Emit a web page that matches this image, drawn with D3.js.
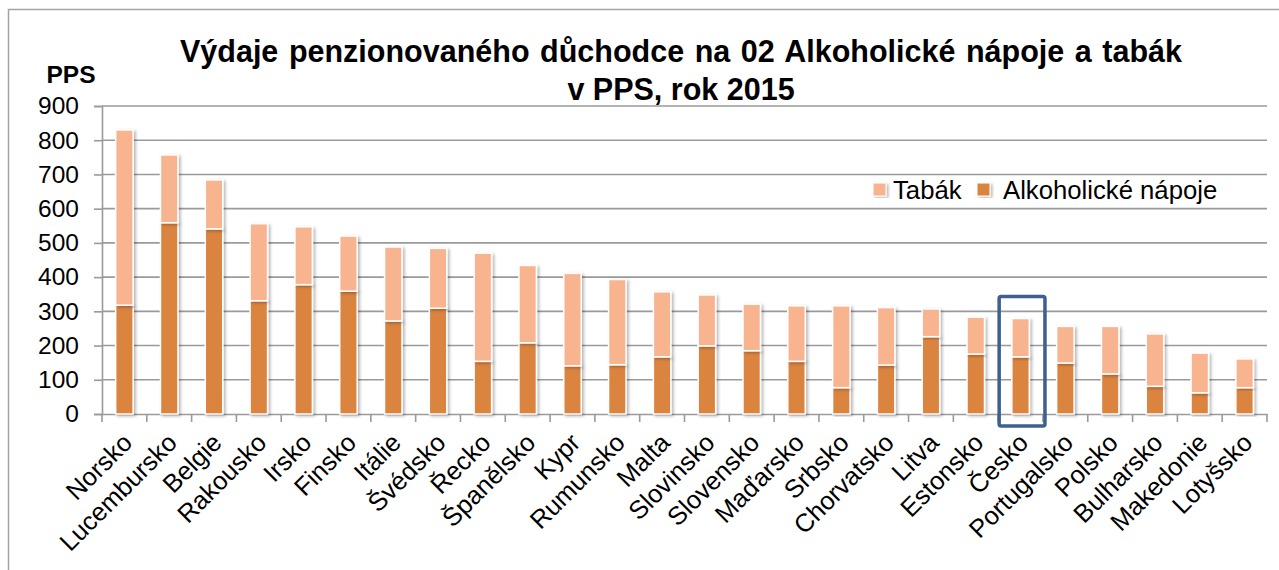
<!DOCTYPE html>
<html><head><meta charset="utf-8">
<script src="https://cdn.jsdelivr.net/npm/d3@7"></script>
<style>
html,body{margin:0;padding:0;background:#fff;}
svg{display:block;font-family:"Liberation Sans",Arial,sans-serif;}
</style></head>
<body>
<svg id="chart" width="1279" height="570"></svg>
<script>
const categories = ["Norsko","Lucembursko","Belgie","Rakousko","Irsko","Finsko","Itálie","Švédsko","Řecko","Španělsko","Kypr","Rumunsko","Malta","Slovinsko","Slovensko","Maďarsko","Srbsko","Chorvatsko","Litva","Estonsko","Česko","Portugalsko","Polsko","Bulharsko","Makedonie","Lotyšsko"];
const alkohol = [318,559,541,331,378,359,272,309,154,208,141,144,167,199,185,154,77,143,226,175,167,149,117,81,62,77];
const tabak   = [512,198,143,225,169,161,216,175,316,226,270,249,190,149,136,162,239,168,81,108,112,107,139,153,116,84];
const yTicks = [0,100,200,300,400,500,600,700,800,900];
const seriesNames = ["Tabák","Alkoholické nápoje"];
const highlight = "Česko";
const titleLines = ["Výdaje penzionovaného důchodce na 02 Alkoholické nápoje a tabák","v PPS, rok 2015"];
const yUnit = "PPS";

const colAlk = "#DB843F", colTab = "#F8B48E", gridCol = "#9a9a9a";
const svg = d3.select("#chart");
const defs = svg.append("defs");
const f = defs.append("filter").attr("id","sh").attr("x","-30%").attr("y","-10%").attr("width","160%").attr("height","120%");
f.append("feDropShadow").attr("dx",2).attr("dy",1.5).attr("stdDeviation",1.5).attr("flood-color","#000").attr("flood-opacity",0.28);

const L = 102, R = 1267, T = 106, B = 414;
const x = d3.scaleBand().domain(categories).range([L,R]).paddingInner(0.61).paddingOuter(0.305);
const xb = d3.scaleBand().domain(categories).range([L,R]).padding(0);
const y = d3.scaleLinear().domain([0,900]).range([B,T]);

// outer chart border
svg.append("path").attr("d","M8.5,570 V9.5 H1279").attr("fill","none").attr("stroke","#a3a3a3").attr("stroke-width",1.5);

// gridlines
svg.append("g").selectAll("line").data(yTicks.filter(d=>d>0)).join("line")
  .attr("x1",L).attr("x2",R).attr("y1",d=>y(d)).attr("y2",d=>y(d))
  .attr("stroke",gridCol).attr("stroke-width",1.6);

// y axis
const ya = svg.append("g").attr("transform",`translate(${L},0)`)
  .call(d3.axisLeft(y).tickValues(yTicks).tickSize(8).tickPadding(15));
ya.select(".domain").attr("stroke",gridCol).attr("stroke-width",1.6);
ya.selectAll(".tick line").attr("stroke",gridCol).attr("stroke-width",1.6);
ya.selectAll(".tick text").attr("font-size",24.5).attr("fill","#000").attr("font-family","Liberation Sans, Arial, sans-serif");

// x axis
const xa = svg.append("g").attr("transform",`translate(0,${B})`)
  .call(d3.axisBottom(xb).tickSize(0).tickFormat(""));
xa.select(".domain").attr("stroke",gridCol).attr("stroke-width",1.6);
svg.append("g").selectAll("line").data(categories.concat(["__end"])).join("line")
  .attr("x1",(d,i)=>L+i*xb.step()).attr("x2",(d,i)=>L+i*xb.step())
  .attr("y1",B).attr("y2",B+8).attr("stroke",gridCol).attr("stroke-width",1.6);

// bars
const stackData = categories.map((c,i)=>({c, alk:alkohol[i], tab:tabak[i]}));
const bars = svg.append("g");
bars.selectAll("rect.alk").data(stackData).join("rect").attr("class","alk")
  .attr("x",d=>x(d.c)).attr("width",x.bandwidth())
  .attr("y",d=>y(d.alk)).attr("height",d=>y(0)-y(d.alk))
  .attr("fill",colAlk).attr("stroke","#fff").attr("stroke-width",1.5).attr("filter","url(#sh)");
bars.selectAll("rect.tab").data(stackData).join("rect").attr("class","tab")
  .attr("x",d=>x(d.c)).attr("width",x.bandwidth())
  .attr("y",d=>y(d.alk+d.tab)).attr("height",d=>y(d.alk)-y(d.alk+d.tab))
  .attr("fill",colTab).attr("stroke","#fff").attr("stroke-width",1.5).attr("filter","url(#sh)");

// x labels
svg.append("g").selectAll("text").data(categories).join("text")
  .attr("transform",d=>`translate(${xb(d)+xb.bandwidth()/2+3},${B+24}) rotate(-45)`)
  .attr("text-anchor","end").attr("dy","0.35em")
  .attr("font-size",25.5).attr("fill","#000").text(d=>d);

// highlight box
const hi = stackData.find(d=>d.c===highlight);
svg.append("rect").attr("x",xb(highlight)+1).attr("width",xb.bandwidth()+1)
  .attr("y",y(hi.alk+hi.tab)-22).attr("height",(B+12)-(y(hi.alk+hi.tab)-22))
  .attr("rx",2).attr("fill","none").attr("stroke","#3D6090").attr("stroke-width",3.5);

// title
const t1 = svg.append("text").attr("x",681).attr("y",62).attr("text-anchor","middle")
  .attr("font-size",30.5).attr("font-weight","bold").attr("fill","#000").text(titleLines[0]);
const nat = t1.node().getComputedTextLength();
const spaces = (titleLines[0].match(/ /g)||[]).length;
t1.attr("word-spacing",(1002-nat)/spaces);
svg.append("text").attr("x",681).attr("y",100).attr("text-anchor","middle")
  .attr("font-size",30.5).attr("font-weight","bold").attr("fill","#000").text(titleLines[1]);

// unit label
svg.append("text").attr("x",71).attr("y",83).attr("text-anchor","middle")
  .attr("font-size",24.5).attr("font-weight","bold").attr("fill","#000").text(yUnit);

// legend
const leg = [{n:seriesNames[0],c:colTab,x:873,tx:893},{n:seriesNames[1],c:colAlk,x:977,tx:1003}];
const lg = svg.append("g");
lg.selectAll("rect").data(leg).join("rect")
  .attr("x",d=>d.x).attr("y",183).attr("width",13).attr("height",13)
  .attr("fill",d=>d.c).attr("stroke","#fff").attr("stroke-width",1).attr("filter","url(#sh)");
lg.selectAll("text").data(leg).join("text")
  .attr("x",d=>d.tx).attr("y",199).attr("font-size",25.7).attr("fill","#000").text(d=>d.n);
</script>
</body></html>
